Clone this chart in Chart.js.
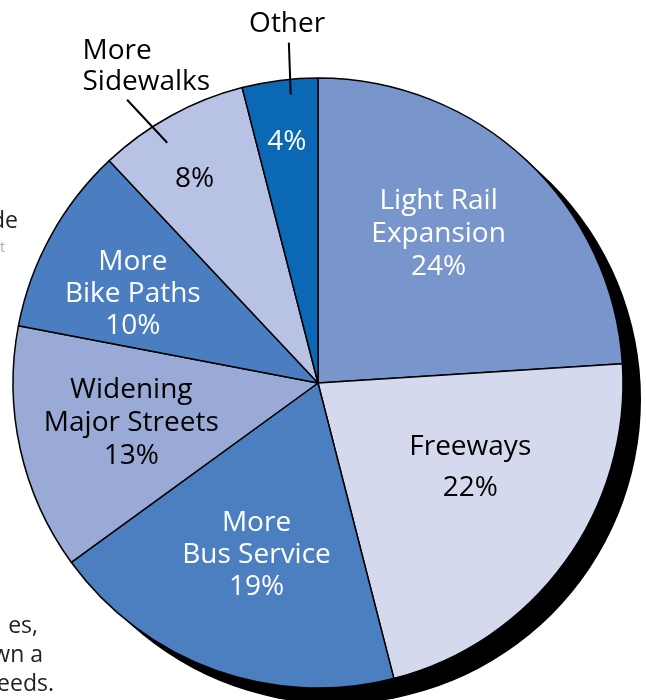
<!DOCTYPE html>
<html>
<head>
<meta charset="utf-8">
<script src="https://cdn.jsdelivr.net/npm/chart.js@4.4.1/dist/chart.umd.min.js"></script>
<style>
  html, body { margin: 0; padding: 0; background: #fff; }
  #wrap { position: relative; width: 646px; height: 700px; overflow: hidden; }
  canvas { position: absolute; left: 0; top: 0; }
  .frag { position: absolute; font-family: 'Open Sans', sans-serif; font-size: 23px; color: #222; white-space: nowrap; text-align: right; line-height: 1; }
</style>
</head>
<body>
<div id="wrap">
  <canvas id="c" width="646" height="700"></canvas>
  <div class="frag" style="right:628px; top:208px;">de</div>
  <div class="frag" style="right:641px; top:240px; color:#aaa; font-size:14px;">t</div>
  <div class="frag" style="right:608px; top:613px;">es,</div>
  <div class="frag" style="right:603px; top:642px;">wn a</div>
  <div class="frag" style="right:592px; top:671px;">eeds.</div>
</div>
<script>
// ---- data ----
const categories = ['Light Rail Expansion', 'Freeways', 'More Bus Service', 'Widening Major Streets', 'More Bike Paths', 'More Sidewalks', 'Other'];
const values = [24, 22, 19, 13, 10, 8, 4];
const sliceColors = ['#7896CB', '#D4D9ED', '#4B7FC0', '#9AAAD6', '#4B7EC0', '#B8C2E4', '#0A68B4'];
const insideLines = [['Light Rail', 'Expansion'], ['Freeways'], ['More', 'Bus Service'], ['Widening', 'Major Streets'], ['More', 'Bike Paths'], [], []];
const outsideLines = [[], [], [], [], [], ['More', 'Sidewalks'], ['Other']];

// ---- label layout (fraction along slice, fraction of radius) ----
const insideLayout = [
  { t: 0.45, r: 0.63, color: '#ffffff', lh: 33 },
  { t: 0.41, r: 0.57, color: '#000000', lh: 41 },
  { t: 0.50, r: 0.595, color: '#ffffff', lh: 32 },
  { t: 0.52, r: 0.625, color: '#000000', lh: 33 },
  { t: 0.42, r: 0.675, color: '#ffffff', lh: 32 },
  { t: 0.42, r: 0.784, color: '#000000', lh: 32 },
  { t: 0.49, r: 0.80, color: '#ffffff', lh: 32 }
];
const outsideLayout = {
  5: { t: 0.23, r: 1.296, align: 'left', lh: 31, lead: [[0.32, 1.12], [0.385, 0.93]] },
  6: { t: 0.66, r: 1.185, align: 'center', lh: 31, lead: [[0.66, 1.12], [0.625, 0.95]] }
};
const FONT = "28px 'Open Sans', sans-serif";

function pt(arc, t, rf) {
  const a = arc.startAngle + (arc.endAngle - arc.startAngle) * t;
  const r = arc.outerRadius * rf;
  return { x: arc.x + Math.cos(a) * r, y: arc.y + Math.sin(a) * r };
}

const shadowPlugin = {
  id: 'shadow',
  beforeDatasetsDraw(chart) {
    const arc = chart.getDatasetMeta(0).data[0];
    if (!arc) return;
    const ctx = chart.ctx;
    ctx.save();
    ctx.fillStyle = '#000';
    ctx.beginPath();
    ctx.arc(arc.x + 18, arc.y + 16, arc.outerRadius, 0, Math.PI * 2);
    ctx.fill();
    ctx.restore();
  }
};

const labelPlugin = {
  id: 'sliceLabels',
  afterDatasetsDraw(chart) {
    const ctx = chart.ctx;
    const arcs = chart.getDatasetMeta(0).data;
    ctx.save();
    ctx.font = FONT;
    ctx.textBaseline = 'middle';
    arcs.forEach((arc, i) => {
      const L = insideLayout[i];
      const lines = insideLines[i].concat([values[i] + '%']);
      const p = pt(arc, L.t, L.r);
      ctx.fillStyle = L.color;
      ctx.textAlign = 'center';
      const y0 = p.y - (lines.length - 1) * L.lh / 2 + 1;
      lines.forEach((s, k) => ctx.fillText(s, p.x, y0 + k * L.lh));
      const O = outsideLayout[i];
      if (O) {
        const q = pt(arc, O.t, O.r);
        ctx.fillStyle = '#000';
        ctx.textAlign = O.align;
        const ol = outsideLines[i];
        const oy = q.y - (ol.length - 1) * O.lh / 2 + 1;
        ol.forEach((s, k) => ctx.fillText(s, q.x, oy + k * O.lh));
        const a = pt(arc, O.lead[0][0], O.lead[0][1]);
        const b = pt(arc, O.lead[1][0], O.lead[1][1]);
        ctx.strokeStyle = '#000';
        ctx.lineWidth = 2;
        ctx.beginPath();
        ctx.moveTo(a.x, a.y);
        ctx.lineTo(b.x, b.y);
        ctx.stroke();
      }
    });
    ctx.restore();
  }
};

new Chart(document.getElementById('c'), {
  type: 'pie',
  data: {
    labels: categories,
    datasets: [{
      data: values,
      backgroundColor: sliceColors,
      borderColor: '#000',
      borderWidth: 1.5,
      radius: 305
    }]
  },
  options: {
    responsive: false,
    animation: false,
    layout: { padding: { left: 0, right: 10, top: 66, bottom: 0 } },
    plugins: { legend: { display: false }, tooltip: { enabled: false } }
  },
  plugins: [shadowPlugin, labelPlugin]
});
</script>
</body>
</html>
